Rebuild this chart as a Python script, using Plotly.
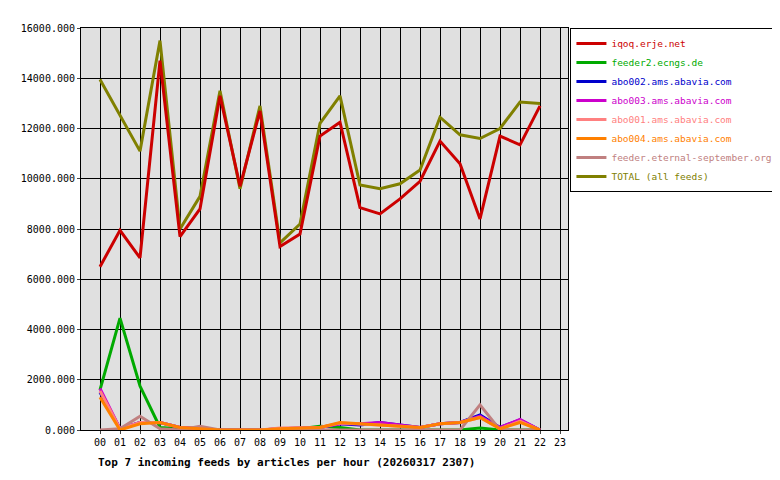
import plotly.graph_objects as go

hours = [f"{h:02d}" for h in range(24)]
iqoq = [6500,7950,6850,14700,7700,8800,13300,9700,12700,7300,7800,11700,12250,8850,8600,9200,9900,11500,10600,8400,11700,11350,12900]
feeder2 = [1600,4450,1750,100,50,0,0,0,0,0,50,150,100,0,0,0,0,0,0,80,0,0,0]
abo002 = [1500,50,300,300,100,50,0,0,0,50,80,100,250,200,300,200,100,250,300,600,100,400,0]
abo003 = [1650,50,300,300,100,50,0,0,0,50,80,100,250,250,300,200,100,250,300,550,100,420,0]
abo001 = [1550,50,300,300,100,50,0,0,0,80,80,100,280,250,200,150,100,250,300,500,50,350,0]
abo004 = [1300,0,250,300,100,50,0,0,0,50,80,100,300,250,200,150,100,250,300,500,50,300,0]
eternal = [0,50,550,50,0,150,0,0,0,0,0,0,0,0,0,0,0,0,0,1000,0,0,0]
total = [13950,12500,11100,15500,8000,9300,13500,9600,12900,7450,8200,12200,13300,9750,9600,9800,10350,12450,11750,11600,12000,13050,13000]

series = [
    ("iqoq.erje.net", iqoq, "#cc0000"),
    ("feeder2.ecngs.de", feeder2, "#00aa00"),
    ("abo002.ams.abavia.com", abo002, "#0000cc"),
    ("abo003.ams.abavia.com", abo003, "#cc00cc"),
    ("abo001.ams.abavia.com", abo001, "#ff8080"),
    ("abo004.ams.abavia.com", abo004, "#ff8000"),
    ("feeder.eternal-september.org", eternal, "#c08080"),
    ("TOTAL (all feeds)", total, "#808000"),
]
fig = go.Figure()
for i in [7, 1, 2, 3, 4, 6, 5, 0]:
    name, vals, col = series[i]
    fig.add_trace(go.Scatter(x=list(range(len(vals))), y=vals,
                             name=f"<span style='color:{col}'>{name}</span>", mode="lines",
                             line=dict(color=col, width=3), legendrank=i + 1))

font = "DejaVu Sans Mono, monospace"
fig.update_layout(
    width=780, height=480, margin=dict(l=73, r=220, t=20, b=58, autoexpand=False),
    paper_bgcolor="white", plot_bgcolor="#e0e0e0",
    font=dict(family=font, size=10, color="black"),
    showlegend=True,
    legend=dict(x=1.005, y=1.0, xanchor="left", yanchor="top", bordercolor="black",
                borderwidth=1, bgcolor="white", font=dict(size=9.5), tracegroupgap=0,
                itemwidth=30),
    xaxis=dict(range=[-0.95, 23.4], tickvals=list(range(24)), ticktext=hours, automargin=False,
               showgrid=True, gridcolor="black", gridwidth=1, zeroline=False,
               showline=True, linecolor="black", mirror=True, ticks="outside", ticklen=3),
    yaxis=dict(range=[0, 16000], tickvals=list(range(0, 16001, 2000)), automargin=False,
               ticktext=[f"{v}.000" for v in range(0, 16001, 2000)],
               showgrid=True, gridcolor="black", gridwidth=1, zeroline=False,
               showline=True, linecolor="black", mirror=True, ticks="outside", ticklen=3),
    annotations=[dict(text="<b>Top 7 incoming feeds by articles per hour (20260317 2307)</b>",
                      xref="paper", yref="paper", x=0.03, y=-0.06, xanchor="left",
                      yanchor="top", showarrow=False, font=dict(size=11, family=font))],
)
fig.write_html("out.html")
